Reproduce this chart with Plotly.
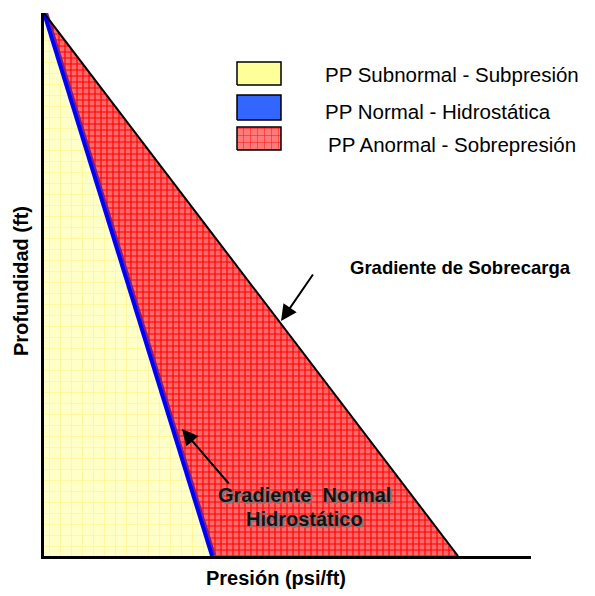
import plotly.graph_objects as go

# Depth (ft) and pressure at each depth (psi) for the two reference gradients
profundidad = [0, 10000]
presion_hidrostatica = [0, 4060]
presion_sobrecarga = [0, 10000]

leyenda_textos = [
    "PP Subnormal - Subpresión",
    "PP Normal - Hidrostática",
    "PP Anormal - Sobrepresión",
]

FONT = "Liberation Sans, Arial, sans-serif"

# Plot-area geometry (pixels)
W, H = 595, 596
L, R, T, B = 44, 64, 13, 40
x_max = presion_sobrecarga[-1] * (W - L - R) / 414.0

fig = go.Figure()

# Overpressure zone: between hydrostatic and overburden gradients
fig.add_trace(go.Scatter(
    x=[presion_hidrostatica[0], presion_hidrostatica[1], presion_sobrecarga[1]],
    y=[profundidad[0], profundidad[1], profundidad[1]],
    fill="toself", mode="none",
    fillcolor="#ff5555",
    fillpattern=dict(shape="+", size=6, solidity=0.35,
                     bgcolor="#ff6a6a", fgcolor="#ff0000", fillmode="replace"),
    hoverinfo="skip", showlegend=False,
))

# Dark edge of the overpressure zone along the hydrostatic line
fig.add_trace(go.Scatter(
    x=presion_hidrostatica, y=profundidad, mode="lines",
    line=dict(color="#7a1f8a", width=8),
    hoverinfo="skip", showlegend=False,
))

# Subpressure zone: between the depth axis and the hydrostatic gradient
fig.add_trace(go.Scatter(
    x=[0, 0, presion_hidrostatica[1]],
    y=[profundidad[0], profundidad[1], profundidad[1]],
    fill="toself", mode="none",
    fillcolor="#ffffc8",
    fillpattern=dict(shape="+", size=11, solidity=0.09,
                     bgcolor="#ffffc8", fgcolor="#fff27a", fillmode="replace"),
    hoverinfo="skip", showlegend=False,
))

# Hydrostatic (normal) gradient
fig.add_trace(go.Scatter(
    x=presion_hidrostatica, y=profundidad, mode="lines",
    line=dict(color="#0000ff", width=4),
    hoverinfo="skip", showlegend=False,
))

# Overburden gradient
fig.add_trace(go.Scatter(
    x=presion_sobrecarga, y=profundidad, mode="lines",
    line=dict(color="#000000", width=2),
    hoverinfo="skip", showlegend=False,
))

# Legend swatches drawn on an overlay axis spanning the plot area (0..1)
swatches = [
    dict(fillcolor="#ffff99", pattern=None),
    dict(fillcolor="#3366ff", pattern=None),
    dict(fillcolor="#ff7070",
         pattern=dict(shape="+", size=7, solidity=0.15,
                      bgcolor="#ff7a7a", fgcolor="#ff1a1a", fillmode="replace")),
]
row_px = [(62, 85), (95, 120), (127, 150)]
text_px = [(323, 74), (323, 112), (326, 144)]
plot_w = W - L - R
plot_h = H - T - B


def px_to_paper(px, py):
    return (px - L) / plot_w, (H - B - py) / plot_h


for sw, (top, bot), label, (tx, ty) in zip(swatches, row_px, leyenda_textos, text_px):
    x0, y0 = px_to_paper(237, bot)
    x1, y1 = px_to_paper(281, top)
    kw = dict(fillpattern=sw["pattern"]) if sw["pattern"] else {}
    fig.add_trace(go.Scatter(
        x=[x0, x1, x1, x0, x0], y=[y0, y0, y1, y1, y0],
        xaxis="x2", yaxis="y2",
        fill="toself", fillcolor=sw["fillcolor"], mode="lines",
        line=dict(color="#000000", width=1.5),
        hoverinfo="skip", showlegend=False, **kw,
    ))
    ax_, ay_ = px_to_paper(tx, ty)
    fig.add_annotation(
        x=ax_, y=ay_, xref="paper", yref="paper", text=label,
        showarrow=False, xanchor="left", yanchor="middle",
        font=dict(family=FONT, size=20.5, color="#000000"),
    )


def px_to_data(px, py):
    return ((px - L) / 414.0 * presion_sobrecarga[-1],
            (py - T) / (plot_h) * profundidad[-1])


# Arrow pointing at the overburden gradient
tip_x, tip_y = px_to_data(281, 321)
fig.add_annotation(
    x=tip_x, y=tip_y, xref="x", yref="y", ax=33, ay=-48,
    showarrow=True, arrowhead=2, arrowsize=1.6, arrowwidth=2,
    arrowcolor="#000000", text="",
)
gx, gy = px_to_paper(348, 267)
fig.add_annotation(
    x=gx, y=gy, xref="paper", yref="paper", text="<b>Gradiente de Sobrecarga</b>",
    showarrow=False, xanchor="left", yanchor="middle",
    font=dict(family=FONT, size=18.5, color="#000000"),
)

# Arrow pointing at the hydrostatic gradient
tip_x, tip_y = px_to_data(182, 429)
fig.add_annotation(
    x=tip_x, y=tip_y, xref="x", yref="y", ax=48, ay=56,
    showarrow=True, arrowhead=2, arrowsize=1.6, arrowwidth=2,
    arrowcolor="#000000", text="",
)
for line_text, py in [("Gradiente  Normal", 495), ("Hidrostático", 519)]:
    nx, ny = px_to_paper(304, py)
    fig.add_annotation(
        x=nx, y=ny, xref="paper", yref="paper",
        text="<b>" + line_text.replace("  ", "&nbsp; ") + "</b>",
        showarrow=False, xanchor="center", yanchor="middle",
        font=dict(family=FONT, size=20, color="#111111",
                  shadow="2px 2px 1px #7a7a7a"),
    )

# Axis titles
px_, py_ = px_to_paper(276, 578)
fig.add_annotation(
    x=px_, y=py_, xref="paper", yref="paper", text="<b>Presión (psi/ft)</b>",
    showarrow=False, xanchor="center", yanchor="middle",
    font=dict(family=FONT, size=20, color="#000000"),
)
px_, py_ = px_to_paper(21, 281)
fig.add_annotation(
    x=px_, y=py_, xref="paper", yref="paper", text="<b>Profundidad (ft)</b>",
    showarrow=False, xanchor="center", yanchor="middle", textangle=-90,
    font=dict(family=FONT, size=20, color="#000000"),
)

fig.update_layout(
    width=W, height=H,
    margin=dict(l=L, r=R, t=T, b=B),
    paper_bgcolor="#ffffff", plot_bgcolor="#ffffff",
    showlegend=False,
    xaxis=dict(range=[0, x_max], showgrid=False, zeroline=False,
               showticklabels=False, ticks="",
               showline=True, linecolor="#000000", linewidth=3),
    yaxis=dict(range=[profundidad[-1], 0], showgrid=False, zeroline=False,
               showticklabels=False, ticks="",
               showline=True, linecolor="#000000", linewidth=3),
    xaxis2=dict(range=[0, 1], overlaying="x", visible=False),
    yaxis2=dict(range=[0, 1], overlaying="y", visible=False),
)

fig.write_html("out.html")
